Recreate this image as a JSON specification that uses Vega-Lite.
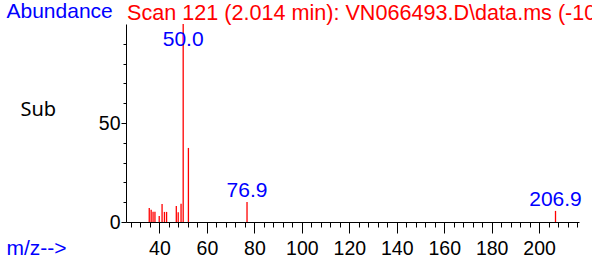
{
  "$schema": "https://vega.github.io/schema/vega-lite/v6.json",
  "width": 453,
  "height": 198,
  "autosize": {"type": "none"},
  "padding": {"left": 126, "top": 24, "right": 13, "bottom": 40},
  "background": "white",
  "title": {
    "text": "Scan 121 (2.014 min): VN066493.D\\data.ms (-100) (-)",
    "anchor": "start",
    "frame": "group",
    "dx": 1,
    "dy": 46,
    "offset": 4,
    "baseline": "alphabetic",
    "color": "#ff0000",
    "font": "Liberation Sans",
    "fontSize": 21.6,
    "fontWeight": "normal"
  },
  "data": {
    "values": [
      {"mz": 35.7, "ab": 7.1},
      {"mz": 36.5, "ab": 6.2},
      {"mz": 37.3, "ab": 5.2},
      {"mz": 38.1, "ab": 5.2},
      {"mz": 39.9, "ab": 3.0},
      {"mz": 41.1, "ab": 9.1},
      {"mz": 42.1, "ab": 5.1},
      {"mz": 43.0, "ab": 5.1},
      {"mz": 47.1, "ab": 8.1},
      {"mz": 47.9, "ab": 4.9},
      {"mz": 49.1, "ab": 9.2},
      {"mz": 50.0, "ab": 100, "label": "50.0"},
      {"mz": 52.2, "ab": 37.4},
      {"mz": 76.9, "ab": 10.1, "label": "76.9"},
      {"mz": 206.9, "ab": 5.6, "label": "206.9"}
    ]
  },
  "encoding": {
    "x": {
      "field": "mz",
      "type": "quantitative",
      "scale": {"domain": [25.9, 216.8], "nice": false, "zero": false},
      "axis": {
        "title": "m/z-->",
        "titleColor": "#0000ff",
        "titleFont": "Liberation Sans",
        "titleFontSize": 21,
        "titleFontWeight": "normal",
        "titleAlign": "left",
        "titleBaseline": "alphabetic",
        "titleAnchor": null,
        "titleX": -120,
        "titleY": 32,
        "values": [28,32,36,40,44,48,52,56,60,64,68,72,76,80,84,88,92,96,100,104,108,112,116,120,124,128,132,136,140,144,148,152,156,160,164,168,172,176,180,184,188,192,196,200,204,208,212,216],
        "labelExpr": "datum.value % 20 === 0 ? datum.label : ''",
        "tickSize": {"condition": {"test": "datum.value % 20 === 0", "value": 11}, "value": 5},
        "labelPadding": 6,
        "labelFlush": false,
        "labelOverlap": false,
        "grid": false
      }
    }
  },
  "layer": [
    {
      "mark": {"type": "rule", "color": "#ff0000", "strokeWidth": 1.3},
      "encoding": {
        "y": {
          "field": "ab",
          "type": "quantitative",
          "scale": {"domain": [0, 100], "nice": false},
          "axis": {
            "title": "Abundance",
            "titleColor": "#0000ff",
            "titleFont": "Liberation Sans",
            "titleFontSize": 21,
            "titleFontWeight": "normal",
            "titleAngle": 0,
            "titleAlign": "left",
            "titleBaseline": "alphabetic",
            "titleAnchor": null,
            "titleX": -120,
            "titleY": -7,
            "values": [0,10,20,30,40,50,60,70,80,90],
            "labelExpr": "datum.value % 50 === 0 ? datum.label : ''",
            "tickSize": {"condition": {"test": "datum.value % 50 === 0", "value": 5}, "value": 3},
            "labelPadding": 1,
            "labelOverlap": false,
            "grid": false
          }
        },
        "y2": {"datum": 0}
      }
    },
    {
      "transform": [{"filter": "datum.label && datum.ab < 90"}],
      "mark": {"type": "text", "color": "#0000ff", "font": "Liberation Sans", "fontSize": 21, "baseline": "alphabetic", "align": "center", "dy": -5},
      "encoding": {
        "y": {
          "field": "ab",
          "type": "quantitative",
          "scale": {"domain": [0, 100], "nice": false},
          "axis": {
            "orient": "left",
            "title": "Sub",
            "titleColor": "#000000",
            "titleFont": "Noto Sans",
            "titleFontSize": 20,
            "titleFontWeight": "normal",
            "titleAngle": 0,
            "titleAlign": "left",
            "titleBaseline": "alphabetic",
            "titleAnchor": null,
            "titleX": -106,
            "titleY": 91,
            "domain": false,
            "ticks": false,
            "labels": false,
            "grid": false
          }
        },
        "text": {"field": "label"}
      }
    },
    {
      "transform": [{"filter": "datum.label && datum.ab >= 90"}],
      "mark": {"type": "text", "color": "#0000ff", "font": "Liberation Sans", "fontSize": 21, "baseline": "alphabetic", "align": "center", "dy": 22},
      "encoding": {
        "y": {
          "field": "ab",
          "type": "quantitative",
          "scale": {"domain": [0, 100], "nice": false},
          "axis": null
        },
        "text": {"field": "label"}
      }
    }
  ],
  "resolve": {"axis": {"y": "independent"}},
  "config": {
    "view": {"stroke": null},
    "axis": {
      "domainColor": "#000000",
      "domainWidth": 1,
      "tickColor": "#000000",
      "tickWidth": 1,
      "labelColor": "#000000",
      "labelFont": "Liberation Sans",
      "labelFontSize": 19.5
    }
  }
}
